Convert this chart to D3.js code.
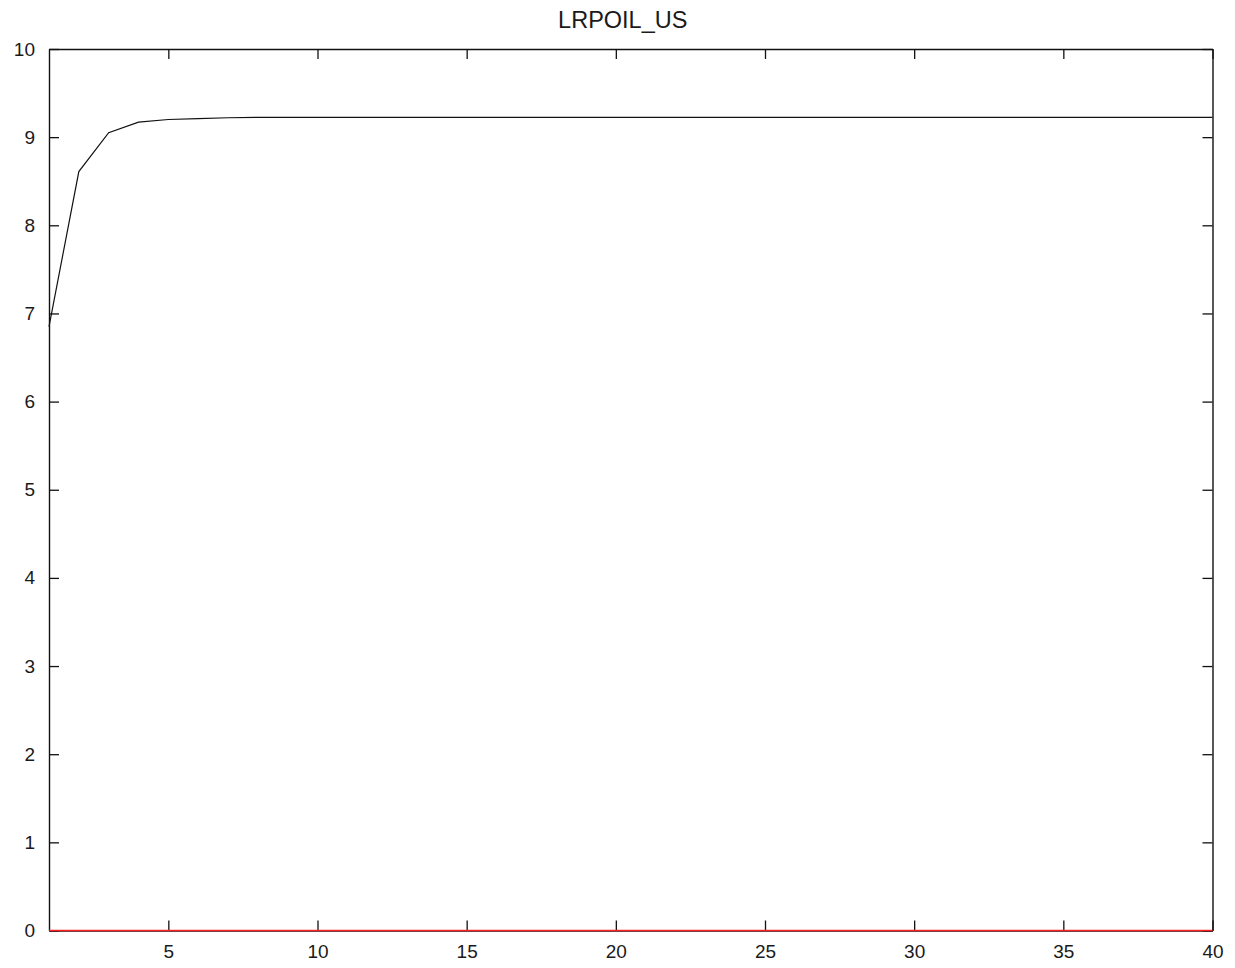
<!DOCTYPE html>
<html>
<head>
<meta charset="utf-8">
<script src="https://cdn.jsdelivr.net/npm/d3@7/dist/d3.min.js"></script>
<style>
  html, body { margin: 0; padding: 0; background: #fff; }
  svg { display: block; }
  text { font-family: "Liberation Sans", Arial, sans-serif; fill: #1a1a1a; }
</style>
</head>
<body>
<svg id="chart" width="1235" height="968"></svg>
<script>
const chartTitle = "LRPOIL_US";
const periods = [1,2,3,4,5,6,7,8,9,10,11,12,13,14,15,16,17,18,19,20,
                 21,22,23,24,25,26,27,28,29,30,31,32,33,34,35,36,37,38,39,40];
const response = [6.85,8.61,9.05,9.17,9.20,9.21,9.22,9.225,9.225,9.225,
                  9.225,9.225,9.225,9.225,9.225,9.225,9.225,9.225,9.225,9.225,
                  9.225,9.225,9.225,9.225,9.225,9.225,9.225,9.225,9.225,9.225,
                  9.225,9.225,9.225,9.225,9.225,9.225,9.225,9.225,9.225,9.225];
const zeroLine = [0,0,0,0,0,0,0,0,0,0,0,0,0,0,0,0,0,0,0,0,
                  0,0,0,0,0,0,0,0,0,0,0,0,0,0,0,0,0,0,0,0];
const xTicks = [5,10,15,20,25,30,35,40];
const yTicks = [0,1,2,3,4,5,6,7,8,9,10];

const L = 49, R = 1212.5, T = 49, B = 930.5;
const svg = d3.select("#chart");

const x = d3.scaleLinear().domain([1, 40]).range([L, R]);
const y = d3.scaleLinear().domain([0, 10]).range([B, T]);

const tickLen = 10;
const fs = 19;

// bottom axis
const gB = svg.append("g").attr("transform", `translate(0,${B})`)
  .call(d3.axisBottom(x).tickValues(xTicks).tickSizeInner(-tickLen).tickSizeOuter(0).tickPadding(14).tickFormat(d3.format("d")));
// top axis
const gT = svg.append("g").attr("transform", `translate(0,${T})`)
  .call(d3.axisTop(x).tickValues(xTicks).tickSizeInner(-tickLen).tickSizeOuter(0).tickFormat(""));
// left axis
const gL = svg.append("g").attr("transform", `translate(${L},0)`)
  .call(d3.axisLeft(y).tickValues(yTicks).tickSizeInner(-tickLen).tickSizeOuter(0).tickPadding(14).tickFormat(d3.format("d")));
// right axis
const gR = svg.append("g").attr("transform", `translate(${R},0)`)
  .call(d3.axisRight(y).tickValues(yTicks).tickSizeInner(-tickLen).tickSizeOuter(0).tickFormat(""));

[gB, gT, gL, gR].forEach(g => {
  g.select(".domain").attr("stroke", "#111").attr("stroke-width", 1.4);
  g.selectAll(".tick line").attr("stroke", "#111").attr("stroke-width", 1.3);
  g.selectAll(".tick text").style("font-size", fs + "px").attr("fill", "#262626")
    .style("font-family", "'Liberation Sans', Arial, sans-serif");
});
gB.selectAll(".tick text").attr("dy", "0.71em");

// lines
const line = d3.line().x((d, i) => x(periods[i])).y(d => y(d));

svg.append("path").datum(zeroLine)
  .attr("d", line).attr("fill", "none").attr("stroke", "#ff2020").attr("stroke-width", 1.6);

svg.append("path").datum(response)
  .attr("d", line).attr("fill", "none").attr("stroke", "#111").attr("stroke-width", 1.2);

// title
svg.append("text").attr("x", (L + R) / 2 - 8).attr("y", 28)
  .attr("text-anchor", "middle").style("font-size", "23.5px").attr("fill", "#262626").text(chartTitle);
</script>
</body>
</html>
